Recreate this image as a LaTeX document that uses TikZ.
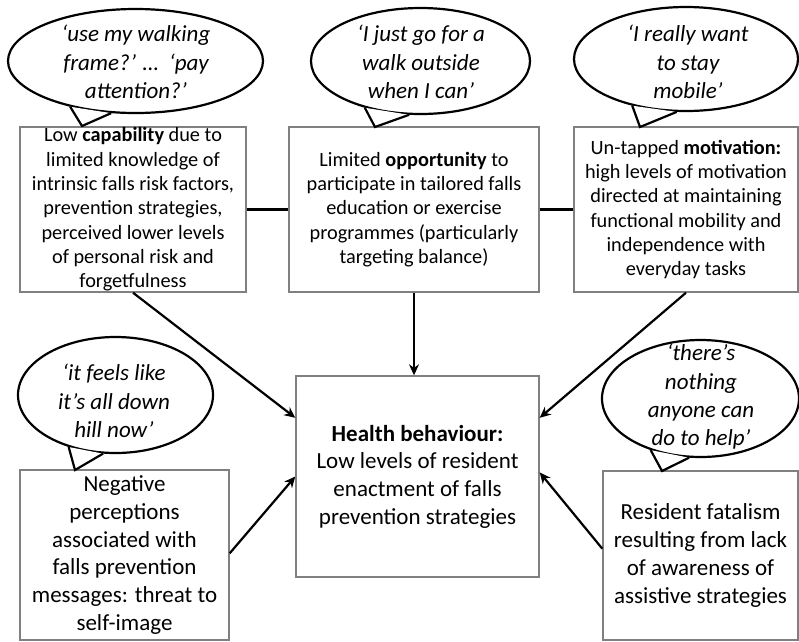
\documentclass[tikz,border=0pt]{standalone}
\usepackage{fontspec}
\setmainfont{Carlito}
\usetikzlibrary{shapes.geometric,arrows.meta,calc}

\begin{document}
\begin{tikzpicture}[x=1pt,y=-1pt,
    box/.style={draw=black!50, line width=1.4pt, inner sep=0pt, align=center},
    small/.style={font=\fontsize{20.3}{24.3}\selectfont},
    large/.style={font=\fontsize{23}{27.7}\selectfont},
    bubble/.style={draw, ellipse, line width=2.2pt, inner sep=0pt},
    quote/.style={align=center, inner sep=0pt, font=\fontsize{23}{28.3}\selectfont\itshape},
    link/.style={line width=2.2pt},
    arrow/.style={line width=2.2pt, -{Stealth[length=11pt,width=10pt]}}]
    \useasboundingbox (0,0) rectangle (799,641);

    % COM-B boxes
    \node[box, small, minimum width=226pt, minimum height=165pt] (cap) at (133,209.5)
        {Low \textbf{capability} due to\\limited knowledge of\\intrinsic falls risk factors,\\prevention strategies,\\perceived lower levels\\of personal risk and\\forgetfulness};
    \node[box, small, minimum width=250pt, minimum height=165pt] (opp) at (414,209.5)
        {Limited \textbf{opportunity} to\\participate in tailored falls\\education or exercise\\programmes (particularly\\targeting balance)};
    \node[box, small, minimum width=224pt, minimum height=165pt] (mot) at (686,209.5)
        {Un-tapped \textbf{motivation:}\\high levels of motivation\\directed at maintaining\\functional mobility and\\independence with\\everyday tasks};
    \node[box, large, minimum width=243pt, minimum height=201pt] (hb) at (417.5,476.5)
        {\textbf{Health behaviour:}\\Low levels of resident\\enactment of falls\\prevention strategies};
    \node[box, large, minimum width=209pt, minimum height=170pt] (neg) at (124.5,555)
        {Negative\\perceptions\\associated with\\falls prevention\\messages: threat to\\self-image};
    \node[box, large, minimum width=195pt, minimum height=169pt] (fat) at (700.5,555.5)
        {Resident fatalism\\resulting from lack\\of awareness of\\assistive strategies};

    % speech bubbles
    \node[bubble, minimum width=255pt, minimum height=104pt] (q1) at (135.5,61) {};
    \node[bubble, minimum width=219pt, minimum height=106pt] (q2) at (420.5,61) {};
    \node[bubble, minimum width=224pt, minimum height=104pt] (q3) at (686,59) {};
    \node[bubble, minimum width=195pt, minimum height=116pt] (q4) at (115.5,395) {};
    \node[bubble, minimum width=197pt, minimum height=117pt] (q5) at (700.5,398.5) {};
    \coordinate (t1) at (82,126);
    \coordinate (t2) at (375,127);
    \coordinate (t3) at (640,127);
    \coordinate (t4) at (75,470);
    \coordinate (t5) at (662,471);
    \foreach \q/\a/\b/\t in {q1/215/245/t1, q2/220/258/t2, q3/221/260/t3, q4/228/258/t4, q5/226/259/t5}{
        \draw[line width=2.2pt, line join=miter, fill=white] (\q.\a) -- (\t) -- (\q.\b);
    }
    \node[quote] at (136,62) {‘use my walking\\frame?’ …\ \ ‘pay\\attention?’};
    \node[quote] at (421,62) {‘I just go for a\\walk outside\\when I can’};
    \node[quote] at (688,62) {‘I really want\\to stay\\mobile’};
    \node[quote] at (114,401) {‘it feels like\\it’s all down\\hill now’};
    \node[quote] at (701,397) {‘there’s\\nothing\\anyone can\\do to help’};

    % links and arrows
    \draw[link] (cap.east) -- (opp.west);
    \draw[link] (opp.east) -- (mot.west);
    \draw[arrow] (cap.south) -- ($(hb.north west)!.21!(hb.south west)$);
    \draw[arrow] (opp.south) -- (opp.south |- hb.north);
    \draw[arrow] (mot.south) -- ($(hb.north east)!.21!(hb.south east)$);
    \draw[arrow] ($(neg.north east)!.49!(neg.south east)$) -- ($(hb.north west)!.5!(hb.south west)$);
    \draw[arrow] ($(fat.north west)!.46!(fat.south west)$) -- ($(hb.north east)!.48!(hb.south east)$);
\end{tikzpicture}
\end{document}
